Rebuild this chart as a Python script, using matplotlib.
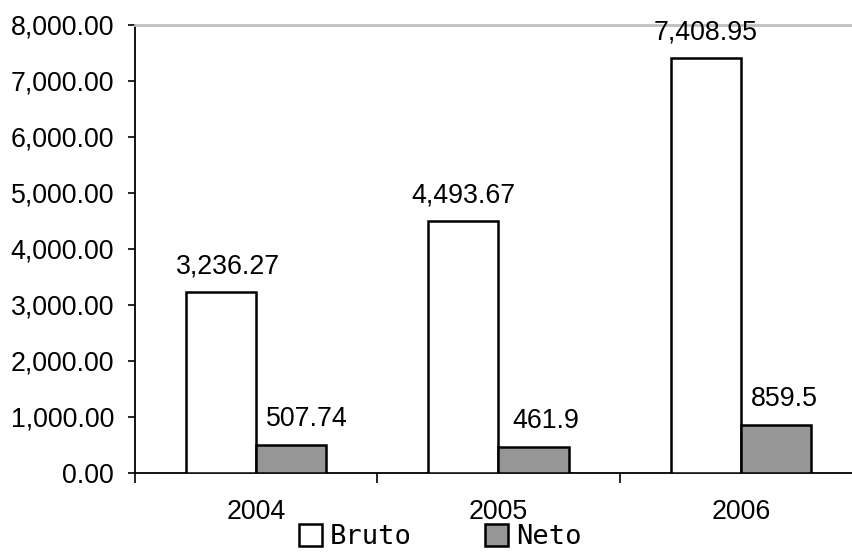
import matplotlib
matplotlib.use("Agg")
import matplotlib.pyplot as plt
from matplotlib.patches import Patch
from matplotlib.ticker import FuncFormatter

YEARS = ["2004", "2005", "2006"]
BRUTO = [3236.27, 4493.67, 7408.95]
NETO = [507.74, 461.9, 859.5]
BRUTO_LABELS = ["3,236.27", "4,493.67", "7,408.95"]
NETO_LABELS = ["507.74", "461.9", "859.5"]

# label nudges (points), as placed in the original
BRUTO_DX = [5, 0, 0]
NETO_DX = [11, 9, 6]

FONT = "Liberation Sans"
FS = 19.3
GRAY = "#969696"

fig = plt.figure(figsize=(8.53, 5.53), dpi=100)
ax = fig.add_axes([135 / 853, 80 / 553, 727 / 853, 448 / 553])

x = list(range(len(YEARS)))
w = 0.289
xb = [i - w / 2 for i in x]
xn = [i + w / 2 for i in x]

ax.bar(xb, BRUTO, width=w, color="white", edgecolor="black", linewidth=1.8, zorder=3)
ax.bar(xn, NETO, width=w, color=GRAY, edgecolor="black", linewidth=1.8, zorder=3)

for xi, v, lab, dx in zip(xb, BRUTO, BRUTO_LABELS, BRUTO_DX):
    ax.annotate(lab, (xi, v), xytext=(dx, 13.5), textcoords="offset points",
                ha="center", va="baseline", fontsize=FS, family=FONT,
                annotation_clip=False)
for xi, v, lab, dx in zip(xn, NETO, NETO_LABELS, NETO_DX):
    ax.annotate(lab, (xi, v), xytext=(dx, 13.5), textcoords="offset points",
                ha="center", va="baseline", fontsize=FS, family=FONT,
                annotation_clip=False)

ax.set_xlim(-0.5, len(YEARS) - 0.5)
ax.set_ylim(0, 8000)
ax.set_yticks(range(0, 8001, 1000))
ax.yaxis.set_major_formatter(FuncFormatter(lambda v, p: f"{v:,.2f}"))

ax.set_xticks([i - 0.5 for i in range(len(YEARS) + 1)])
ax.set_xticklabels([])
ax.set_xticks(x, minor=True)
ax.set_xticklabels(YEARS, minor=True)
ax.tick_params(axis="x", which="major", length=7, width=1.2, direction="out")
ax.tick_params(axis="x", which="minor", length=0, pad=19)
ax.tick_params(axis="y", length=5, width=1.2, direction="out", pad=10)
for t in ax.get_xticklabels(minor=True) + ax.get_yticklabels():
    t.set_fontsize(FS)
    t.set_family(FONT)

ax.spines["right"].set_visible(False)
ax.spines["top"].set_color("#c0c0c0")
ax.spines["top"].set_linewidth(2)
ax.spines["left"].set_linewidth(1.3)
ax.spines["bottom"].set_linewidth(1.3)

handles = [Patch(facecolor="white", edgecolor="black", linewidth=1.8, label="Bruto"),
           Patch(facecolor=GRAY, edgecolor="black", linewidth=1.8, label="Neto")]
fig.legend(handles=handles, loc="center", bbox_to_anchor=(440 / 853, 1 - 537 / 553),
           ncol=2, frameon=False, handlelength=0.85, handleheight=0.85,
           handletextpad=0.3, columnspacing=2.7, borderpad=0.2,
           prop={"family": "DejaVu Sans Mono", "size": 19.5})

fig.savefig("out.png", dpi=100, facecolor="white")
